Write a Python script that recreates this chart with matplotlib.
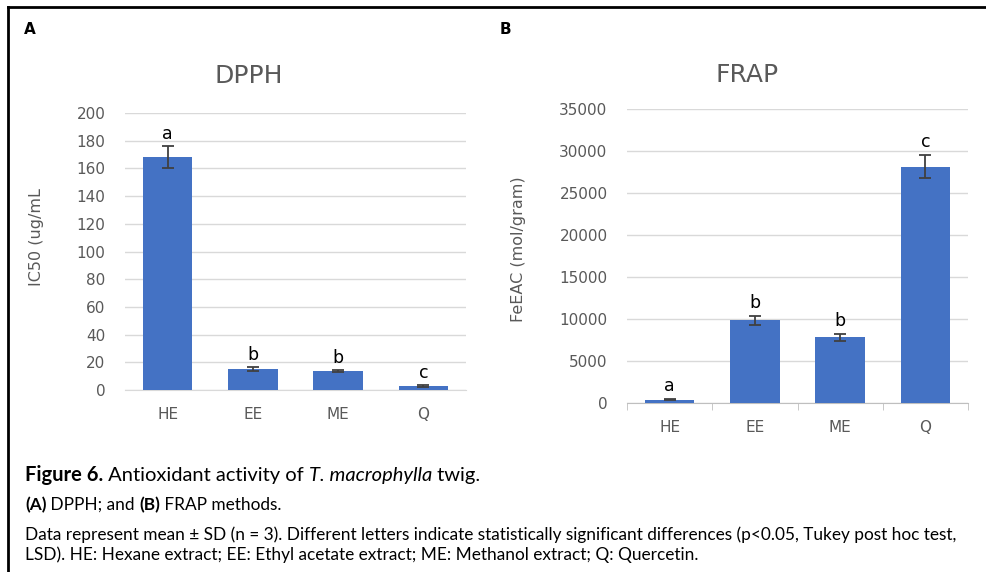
import matplotlib.pyplot as plt
import numpy as np

plt.rcParams['font.family'] = 'DejaVu Sans'

# data
cats = ['HE', 'EE', 'ME', 'Q']
dpph = [168, 15, 13.5, 3]
dpph_sd = [8, 1.5, 0.8, 0.5]
dpph_letters = ['a', 'b', 'b', 'c']
frap = [400, 9850, 7800, 28150]
frap_sd = [100, 550, 450, 1400]
frap_letters = ['a', 'b', 'b', 'c']

W, H = 986, 572
blue = '#4472C4'
grey_txt = '#595959'
grid_c = '#d9d9d9'

fig = plt.figure(figsize=(W / 100, H / 100), dpi=100)
fig.patch.set_facecolor('white')


def fx(px):
    return px / W


def fy(py):
    return 1 - py / H


def px_axes(x0, y0, x1, y1):
    # pixel box (top-left origin) -> figure fractions
    return fig.add_axes([fx(x0), fy(y1), (x1 - x0) / W, (y1 - y0) / H])


def panel(ax, vals, sd, letters, ymax, step, xaxis_line):
    x = np.arange(len(cats))
    ax.bar(x, vals, width=0.58, color=blue, zorder=3)
    ax.errorbar(x, vals, yerr=sd, fmt='none', ecolor='#404040',
                elinewidth=1.3, capsize=4, capthick=1.3, zorder=4)
    for xi, v, s, l in zip(x, vals, sd, letters):
        ax.text(xi, v + s + ymax * 0.012, l, ha='center', va='bottom',
                fontsize=12.5, color='black')
    ax.set_xlim(-0.5, len(cats) - 0.5)
    ax.set_ylim(0, ymax)
    ax.set_yticks(np.arange(0, ymax + 1, step))
    ax.yaxis.grid(True, color=grid_c, lw=1, zorder=0)
    ax.set_axisbelow(True)
    for s in ['top', 'right', 'left']:
        ax.spines[s].set_visible(False)
    ax.set_xticks(x)
    ax.set_xticklabels(cats)
    ax.tick_params(axis='y', length=0, labelsize=11, colors=grey_txt, pad=14)
    ax.tick_params(axis='x', length=0, labelsize=11, colors=grey_txt, pad=12)
    if xaxis_line:
        ax.spines['bottom'].set_color('#bfbfbf')
        ax.set_xticks(np.arange(-0.5, len(cats)), minor=True)
        ax.tick_params(axis='x', which='minor', length=5, color='#bfbfbf',
                       direction='out')
    else:
        ax.spines['bottom'].set_color(grid_c)


axA = px_axes(125, 113, 466, 390)
panel(axA, dpph, dpph_sd, dpph_letters, 200, 20, False)
axB = px_axes(627, 109, 968, 403)
panel(axB, frap, frap_sd, frap_letters, 35000, 5000, True)

# chart titles and axis titles
fig.text(fx(249), fy(76), 'DPPH', fontsize=18, color=grey_txt,
         ha='center', va='center')
fig.text(fx(747), fy(75), 'FRAP', fontsize=18, color=grey_txt,
         ha='center', va='center')
fig.text(fx(37), fy(237), 'IC50 (ug/mL', fontsize=11.5, color=grey_txt,
         rotation=90, ha='center', va='center')
fig.text(fx(518), fy(249), 'FeEAC (mol/gram)', fontsize=11.5, color=grey_txt,
         rotation=90, ha='center', va='center')

fig.text(fx(30), fy(30), 'A', fontsize=11, fontweight='bold',
         ha='center', va='center')
fig.text(fx(505), fy(30), 'B', fontsize=11, fontweight='bold',
         ha='center', va='center')

# frame lines
fig.add_artist(plt.Line2D([fx(8), 1], [fy(7)] * 2, color='black', lw=2))
fig.add_artist(plt.Line2D([fx(8)] * 2, [0, fy(7)], color='black', lw=2))

# caption
cap = 'Lato'


def run(parts, y, size):
    xpos = 25
    for s, w, st in parts:
        tt = fig.text(fx(xpos), fy(y), s, fontsize=size, fontweight=w,
                      style=st, family=cap, va='center')
        fig.canvas.draw()
        xpos = tt.get_window_extent().x1


run([('Figure 6.', 'bold', 'normal'),
     (' Antioxidant activity of ', 'normal', 'normal'),
     ('T. macrophylla', 'normal', 'italic'),
     (' twig.', 'normal', 'normal')], 475, 14.5)
run([('(A)', 'bold', 'normal'), (' DPPH; and ', 'normal', 'normal'),
     ('(B)', 'bold', 'normal'), (' FRAP methods.', 'normal', 'normal')],
    505, 12.4)

fig.text(fx(25), fy(535),
         'Data represent mean \u00b1 SD (n = 3). Different letters indicate '
         'statistically significant differences (p<0.05, Tukey post hoc test,',
         fontsize=12.4, family=cap, va='center')
fig.text(fx(25), fy(555),
         'LSD). HE: Hexane extract; EE: Ethyl acetate extract; '
         'ME: Methanol extract; Q: Quercetin.',
         fontsize=12.4, family=cap, va='center')

fig.savefig('out.png', dpi=100)
